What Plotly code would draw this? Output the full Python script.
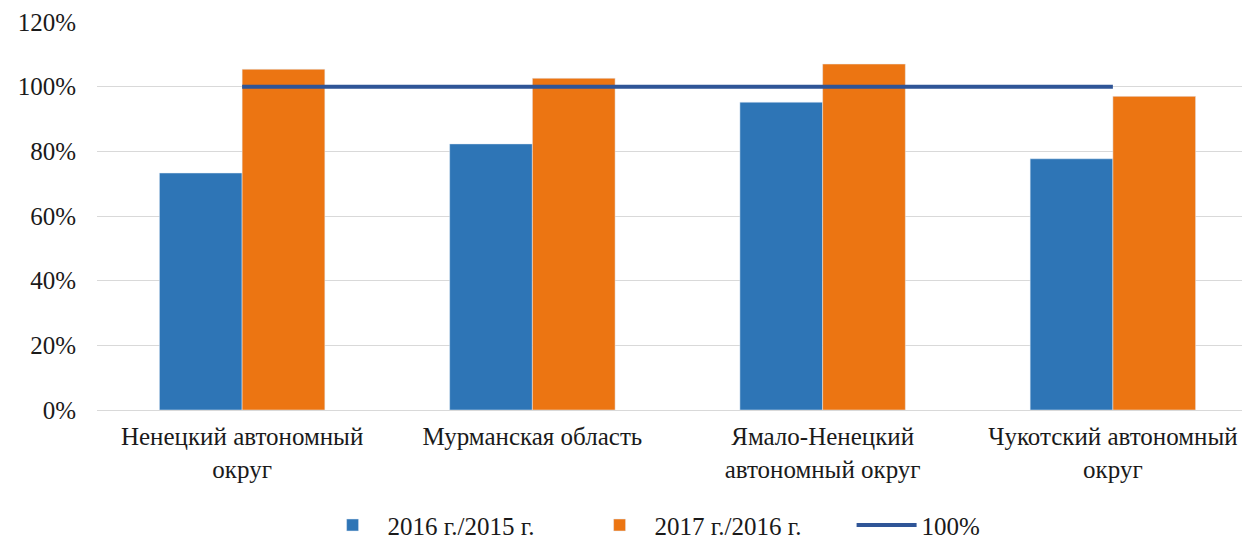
import plotly.graph_objects as go

categories = ["Ненецкий автономный<br>округ", "Мурманская область",
              "Ямало-Ненецкий<br>автономный округ", "Чукотский автономный<br>округ"]
s2016 = [0.733, 0.823, 0.952, 0.777]
s2017 = [1.054, 1.026, 1.070, 0.970]
ref100 = [1.0, 1.0, 1.0, 1.0]
names = ["2016 г./2015 г.", "2017 г./2016 г.", "100%"]

font_family = "Liberation Serif, Times New Roman, serif"

fig = go.Figure()
fig.add_trace(go.Bar(x=categories, y=s2016, name=names[0], marker_color="#2E75B6"))
fig.add_trace(go.Bar(x=categories, y=s2017, name=names[1], marker_color="#EC7512"))
fig.add_trace(go.Scatter(x=categories, y=ref100, name=names[2], mode="lines",
                         line=dict(color="#2F5597", width=4)))

fig.update_layout(
    width=1250, height=540,
    paper_bgcolor="white", plot_bgcolor="white",
    margin=dict(l=89, r=0, t=14.3, b=137.7, autoexpand=False),
    barmode="group", bargap=0.43, bargroupgap=0,
    font=dict(family=font_family, size=25, color="#1a1a1a"),
    showlegend=True,
    legend=dict(orientation="h", x=0.19, xanchor="left", y=-0.297, yanchor="middle",
                font=dict(size=25), tracegroupgap=0, itemwidth=60,
                entrywidth=192, entrywidthmode="pixels"),
    xaxis=dict(range=[-0.5, 3.5], showgrid=False, showline=False, ticks="",
               tickfont=dict(size=25), ticklabelstandoff=9),
    yaxis=dict(range=[0, 1.2], dtick=0.2, tickformat=".0%", showgrid=True,
               gridcolor="#d9d9d9", gridwidth=1, zeroline=True, zerolinecolor="#d9d9d9",
               zerolinewidth=1, showline=False, ticks="", tickfont=dict(size=25),
               ticklabelstandoff=20),
)

fig.write_html("out.html")
